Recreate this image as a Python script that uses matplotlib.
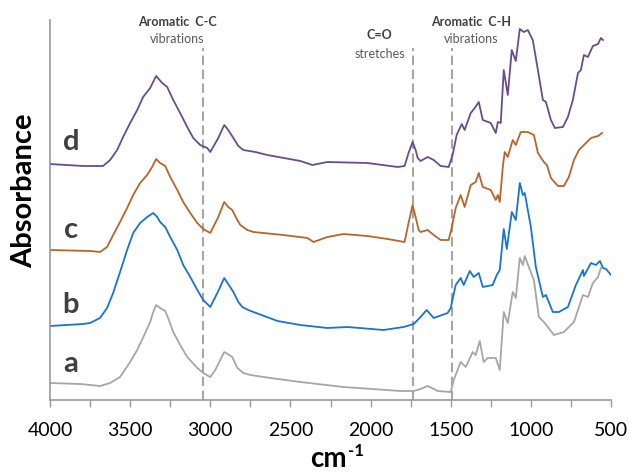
import matplotlib
matplotlib.use("Agg")
import matplotlib.pyplot as plt
import numpy as np

plt.rcParams['font.family'] = ['Lato', 'DejaVu Sans']

# FTIR spectra (absorbance in arbitrary stacked units)
wn_a = [4000, 3813, 3688, 3625, 3563, 3500, 3456, 3406, 3375, 3356, 3338, 3313, 3281,
        3263, 3231, 3188, 3144, 3081, 3044, 3000, 2969, 2944, 2913, 2881, 2863, 2831,
        2794, 2750, 2625, 2438, 2169, 1813, 1731, 1688, 1644, 1606, 1581, 1500, 1481,
        1438, 1406, 1363, 1344, 1319, 1294, 1269, 1219, 1194, 1169, 1144, 1113, 1094,
        1069, 1050, 1038, 1013, 981, 950, 919, 894, 856, 794, 731, 675, 644, 613, 581, 563]
abs_a = [0.17, 0.16, 0.14, 0.17, 0.23, 0.38, 0.50, 0.67, 0.78, 0.88, 0.95, 0.92, 0.89,
         0.82, 0.68, 0.55, 0.43, 0.32, 0.27, 0.23, 0.30, 0.38, 0.48, 0.45, 0.43, 0.32,
         0.27, 0.25, 0.22, 0.18, 0.13, 0.09, 0.09, 0.11, 0.14, 0.11, 0.09, 0.08, 0.20,
         0.38, 0.33, 0.48, 0.45, 0.59, 0.38, 0.42, 0.42, 0.30, 0.88, 0.77, 1.08, 1.02,
         1.42, 1.35, 1.44, 1.33, 1.20, 0.83, 0.78, 0.73, 0.65, 0.68, 0.78, 1.05, 1.03,
         1.17, 1.23, 1.32]

wn_b = [4000, 3794, 3750, 3688, 3644, 3606, 3563, 3519, 3481, 3438, 3394, 3356, 3331,
        3313, 3281, 3250, 3206, 3169, 3125, 3081, 3044, 3000, 2956, 2913, 2888, 2856,
        2825, 2800, 2763, 2731, 2581, 2438, 2269, 2144, 1919, 1794, 1731, 1688, 1650,
        1606, 1519, 1500, 1469, 1438, 1419, 1381, 1356, 1325, 1300, 1238, 1213, 1194,
        1169, 1150, 1119, 1094, 1069, 1050, 1038, 1000, 969, 925, 906, 863, 825, 769,
        719, 675, 669, 625, 594, 569, 550, 531, 500]
abs_b = [0.74, 0.76, 0.77, 0.82, 0.92, 1.07, 1.28, 1.50, 1.67, 1.77, 1.83, 1.87, 1.83,
         1.78, 1.73, 1.63, 1.50, 1.35, 1.23, 1.10, 1.00, 0.93, 1.07, 1.22, 1.16, 1.08,
         0.98, 0.93, 0.90, 0.88, 0.79, 0.75, 0.72, 0.73, 0.70, 0.73, 0.76, 0.83, 0.90,
         0.82, 0.87, 0.92, 1.15, 1.22, 1.15, 1.29, 1.23, 1.27, 1.13, 1.15, 1.25, 1.30,
         1.71, 1.51, 1.88, 1.80, 2.17, 2.05, 2.07, 1.73, 1.33, 1.03, 1.05, 0.88, 0.88,
         0.93, 1.15, 1.30, 1.24, 1.37, 1.35, 1.39, 1.32, 1.31, 1.25]

wn_c = [4000, 3750, 3688, 3644, 3606, 3563, 3519, 3481, 3438, 3394, 3363, 3338, 3313,
        3281, 3250, 3206, 3169, 3125, 3081, 3044, 3000, 2950, 2913, 2888, 2863, 2838,
        2813, 2769, 2731, 2544, 2394, 2356, 2269, 2169, 2019, 1894, 1788, 1763, 1738,
        1719, 1700, 1688, 1644, 1606, 1563, 1513, 1494, 1469, 1438, 1413, 1375, 1344,
        1325, 1300, 1250, 1219, 1206, 1194, 1175, 1163, 1144, 1113, 1094, 1063, 1019,
        981, 956, 919, 900, 875, 831, 794, 763, 731, 700, 669, 625, 581, 556]
abs_c = [1.50, 1.49, 1.48, 1.53, 1.65, 1.78, 1.92, 2.05, 2.17, 2.25, 2.33, 2.41, 2.37,
         2.34, 2.23, 2.10, 1.98, 1.87, 1.77, 1.71, 1.67, 1.83, 1.98, 1.93, 1.90, 1.82,
         1.75, 1.70, 1.68, 1.65, 1.62, 1.58, 1.63, 1.66, 1.64, 1.61, 1.58, 1.77, 1.95,
         1.83, 1.70, 1.68, 1.70, 1.65, 1.60, 1.60, 1.72, 1.92, 2.05, 1.93, 2.15, 2.18,
         2.27, 2.13, 2.10, 2.00, 2.05, 1.98, 2.33, 2.48, 2.43, 2.60, 2.55, 2.68, 2.68,
         2.65, 2.47, 2.38, 2.35, 2.22, 2.14, 2.14, 2.23, 2.40, 2.50, 2.55, 2.62, 2.64, 2.67]

wn_d = [4000, 3794, 3669, 3625, 3581, 3544, 3500, 3456, 3419, 3375, 3338, 3300, 3269,
        3231, 3188, 3144, 3106, 3063, 3019, 3000, 2950, 2913, 2888, 2856, 2825, 2794,
        2719, 2644, 2438, 2363, 2269, 2019, 1831, 1788, 1763, 1738, 1719, 1706, 1688,
        1644, 1606, 1563, 1513, 1488, 1463, 1431, 1413, 1375, 1350, 1325, 1300, 1250,
        1219, 1206, 1188, 1169, 1144, 1119, 1094, 1069, 1044, 1019, 988, 956, 925, 906,
        875, 850, 800, 769, 738, 706, 688, 669, 644, 613, 581, 563, 550]
abs_d = [2.36, 2.34, 2.34, 2.40, 2.50, 2.63, 2.77, 2.90, 3.03, 3.12, 3.24, 3.17, 3.13,
         3.00, 2.87, 2.73, 2.62, 2.55, 2.52, 2.48, 2.62, 2.75, 2.70, 2.62, 2.54, 2.50,
         2.48, 2.45, 2.39, 2.35, 2.38, 2.37, 2.33, 2.34, 2.47, 2.58, 2.50, 2.42, 2.39,
         2.43, 2.40, 2.34, 2.33, 2.45, 2.65, 2.76, 2.70, 2.87, 2.92, 2.98, 2.80, 2.77,
         2.67, 2.78, 2.77, 3.30, 3.05, 3.50, 3.39, 3.71, 3.68, 3.70, 3.60, 3.30, 3.00,
         2.98, 2.80, 2.72, 2.73, 2.83, 3.00, 3.27, 3.30, 3.45, 3.43, 3.54, 3.56, 3.62, 3.60]

series = [
    ('a', wn_a, abs_a, '#a6a6a6', 0.28),
    ('b', wn_b, abs_b, '#1874cd', 0.87),
    ('c', wn_c, abs_c, '#b4662c', 1.62),
    ('d', wn_d, abs_d, '#6a4c8c', 2.50),
]

# band markers and their two-line notes
markers = [3045, 1733, 1494]
notes = [
    (3206, 'Aromatic  C-C', 'vibrations', 3.74, 3.57),
    (1944, 'C=O', 'stretches', 3.61, 3.42),
    (1375, 'Aromatic  C-H', 'vibrations', 3.74, 3.57),
]

fig = plt.figure(figsize=(6.29, 4.75), dpi=100)
ax = fig.add_axes([50 / 629, 75 / 475, 561 / 629, 380 / 475])

for x in markers:
    ax.plot([x, x], [0, 3.52], color='#a6a6a6', lw=1.5, dashes=(4.5, 2.2), zorder=1)

for name, wn, ab, col, ly in series:
    ax.plot(wn, ab, color=col, lw=1.3, zorder=2)
    ax.text(3870, ly, name, fontsize=21, fontweight='bold', color='#404040',
            ha='center', va='baseline')

for x, t1, t2, y1, y2 in notes:
    ax.text(x, y1, t1, fontsize=9, fontweight='bold', color='#404040',
            ha='center', va='baseline', clip_on=False)
    ax.text(x, y2, t2, fontsize=9, color='#595959',
            ha='center', va='baseline', clip_on=False)

ax.set_xlim(4000, 500)
ax.set_ylim(0, 3.8)
ax.set_xticks(np.arange(4000, 499, -500))
ax.set_xticks(np.arange(3750, 500, -500), minor=True)
ax.set_yticks([])
ax.tick_params(axis='x', which='both', direction='out', length=5, width=1,
               color='#999999', labelsize=14, pad=11)
for s in ['top', 'right']:
    ax.spines[s].set_visible(False)
for s in ['left', 'bottom']:
    ax.spines[s].set_color('#999999')
    ax.spines[s].set_linewidth(1.2)

# axis titles: "cm" with a raised "-1", and the rotated Absorbance
fig.text(347 / 629, 1 - 467 / 475, 'cm', fontsize=20, fontweight='bold',
         ha='right', va='baseline')
fig.text(348 / 629, 1 - 456 / 475, '-1', fontsize=12, fontweight='bold',
         ha='left', va='baseline')
fig.text(24 / 629, 1 - 191 / 475, 'Absorbance', fontsize=21, fontweight='bold',
         rotation=90, ha='center', va='center')

fig.savefig('out.png', dpi=100)
